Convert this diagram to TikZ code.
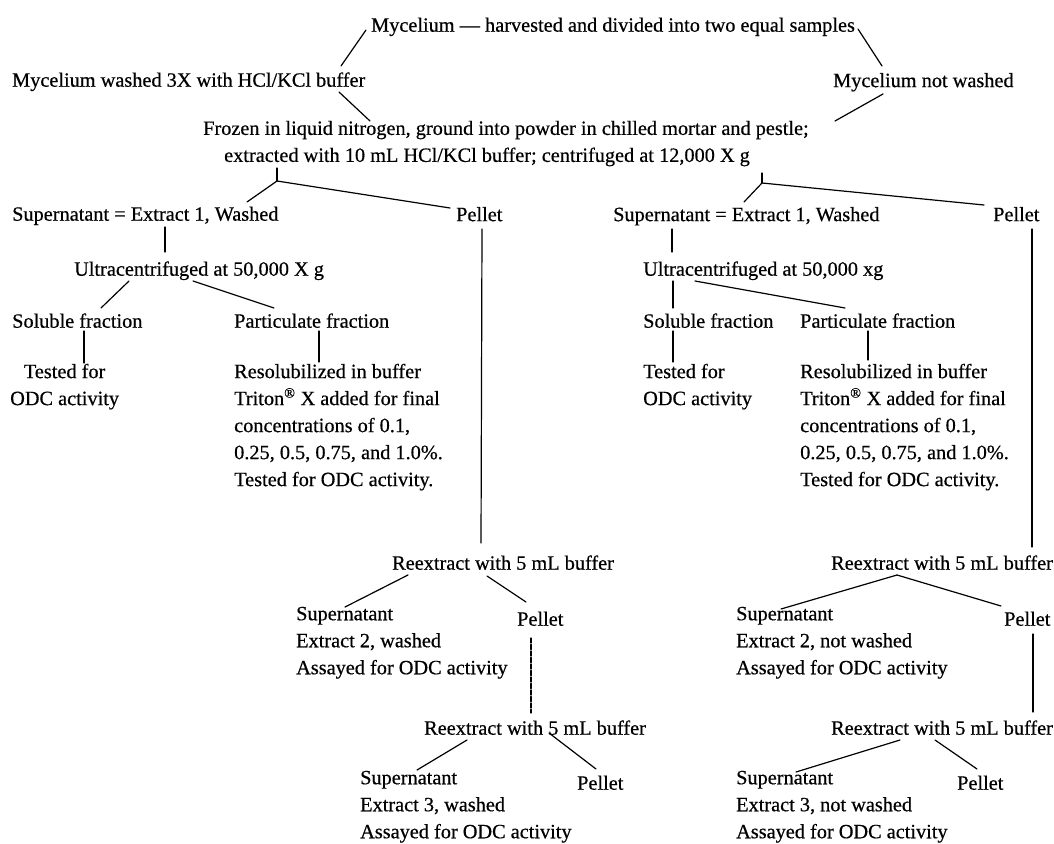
\documentclass[tikz,border=0pt]{standalone}
\usepackage{fontspec}
\setmainfont{Liberation Serif}[FakeBold=0.5]
\usetikzlibrary{positioning}
\tikzset{
  txt/.style     = {anchor=north west, inner sep=0pt, align=left,
                    font=\fontsize{20.3}{27}\selectfont,
                    execute at begin node=\strut},
  link/.style    = {line width=1.2pt, line cap=round},
  gaplink/.style = {link, dash pattern=on 5pt off 1.5pt},
}
\begin{document}
\begin{tikzpicture}[x=1pt, y=-1pt]
  \useasboundingbox (0,0) rectangle (1054,843);
  % ---- harvest and split ----
  \node[txt] (harv) at (371,12.6)
    {Mycelium --- harvested and divided into two equal samples};
  \node[txt] (wash) at (12,67.6) {Mycelium washed 3X with HCl/KCl buffer};
  \node[txt] (nowash) at (833,68) {Mycelium not washed};
  \node[txt] (froz) at (203,120.6)
    {Frozen in liquid nitrogen, ground into powder in chilled mortar and pestle;\\
     \hspace*{21pt}extracted with 10 mL HCl/KCl buffer; centrifuged at 12,000 X g};
  \draw[link] ([shift={(-5,17.4)}]harv.north west) -- ([shift={(329,-1.6)}]wash.north west);
  \draw[link] ([shift={(487,16.4)}]harv.north west) -- ([shift={(49,-2)}]nowash.north west);
  \draw[link] ([shift={(327,24.4)}]wash.north west) -- ([shift={(167,0.4)}]froz.north west);
  \draw[link] ([shift={(50,26)}]nowash.north west) -- ([shift={(632,0.4)}]froz.north west);
  \coordinate (jL) at ([shift={(74,60.4)}]froz.north west);
  \coordinate (jR) at ([shift={(559,62.4)}]froz.north west);
  % ---- first extraction, left (washed) ----
  \node[txt] (supL) at (12,201.6) {Supernatant = Extract 1, Washed};
  \node[txt] (pelL) at (456,202) {Pellet};
  \node[txt] (ultL) at (74,256.6) {Ultracentrifuged at 50,000 X g};
  \node[txt] (solL) at (12,308.6) {Soluble fraction};
  \node[txt] (parL) at (234,308.6) {Particulate fraction};
  \node[txt, align=center] (tstL) at (10,363.6) {Tested for\\ ODC activity};
  \node[txt] (resL) at (234,363.6)
    {Resolubilized in buffer\\ Triton\textsuperscript{®} X added for final\\
     concentrations of 0.1,\\ 0.25, 0.5, 0.75, and 1.0\%.\\ Tested for ODC activity.};
  \draw[link] ([shift={(74,47.4)}]froz.north west) -- (jL);
  \draw[link] (jL) -- ([shift={(235,0.4)}]supL.north west);
  \draw[link] (jL) -- ([shift={(-6,6)}]pelL.north west);
  \draw[link] ([shift={(153,25.4)}]supL.north west) -- ([shift={(91,-4.6)}]ultL.north west);
  \draw[link] ([shift={(55,24.4)}]ultL.north west) -- ([shift={(89,-0.6)}]solL.north west);
  \draw[link] ([shift={(119,24.4)}]ultL.north west) -- ([shift={(40,-0.6)}]parL.north west);
  \draw[link] ([shift={(72,22.4)}]solL.north west) -- ([shift={(74,-0.6)}]tstL.north west);
  \draw[link] ([shift={(85,22.4)}]parL.north west) -- ([shift={(85,-1.6)}]resL.north west);
  % ---- first extraction, right (not washed) ----
  \node[txt] (supR) at (613,202) {Supernatant = Extract 1, Washed};
  \node[txt] (pelR) at (993,202) {Pellet};
  \node[txt] (ultR) at (643,256.6) {Ultracentrifuged at 50,000 xg};
  \node[txt] (solR) at (643,308.6) {Soluble fraction};
  \node[txt] (parR) at (800,308.6) {Particulate fraction};
  \node[txt] (tstR) at (643,363.6) {Tested for\\ ODC activity};
  \node[txt] (resR) at (800,363.6)
    {Resolubilized in buffer\\ Triton\textsuperscript{®} X added for final\\
     concentrations of 0.1,\\ 0.25, 0.5, 0.75, and 1.0\%.\\ Tested for ODC activity.};
  \draw[link] ([shift={(559,52.4)}]froz.north west) -- (jR);
  \draw[link] (jR) -- ([shift={(131,0)}]supR.north west);
  \draw[link] (jR) -- ([shift={(-9,3)}]pelR.north west);
  \draw[link] ([shift={(59,27)}]supR.north west) -- ([shift={(29,-4.6)}]ultR.north west);
  \draw[link] ([shift={(30,24.4)}]ultR.north west) -- ([shift={(30,-0.6)}]solR.north west);
  \draw[link] ([shift={(52,24.4)}]ultR.north west) -- ([shift={(45,-0.6)}]parR.north west);
  \draw[link] ([shift={(30,22.4)}]solR.north west) -- ([shift={(30,-1.6)}]tstR.north west);
  \draw[link] ([shift={(68,22.4)}]parR.north west) -- ([shift={(68,-3.6)}]resR.north west);
  % ---- reextractions, left ----
  \node[txt] (rexL2) at (392,550.6) {Reextract with 5 mL buffer};
  \node[txt] (supL2) at (296,606.6)
    {Supernatant\\ Extract 2, washed\\ Assayed for ODC activity};
  \node[txt] (pelL2) at (517,606.6) {Pellet};
  \node[txt] (rexL3) at (424,715.6) {Reextract with 5 mL buffer};
  \node[txt] (supL3) at (360,770.6)
    {Supernatant\\ Extract 3, washed\\ Assayed for ODC activity};
  \node[txt] (pelL3) at (577,770.6) {Pellet};
  \draw[link] ([shift={(26,27)}]pelL.north west) -- ([shift={(89,-7.6)}]rexL2.north west);
  \draw[link] ([shift={(16,24.4)}]rexL2.north west) -- ([shift={(49,0.4)}]supL2.north west);
  \draw[link] ([shift={(95,25.4)}]rexL2.north west) -- ([shift={(9,-4.6)}]pelL2.north west);
  \draw[gaplink] ([shift={(14,31.4)}]pelL2.north west) -- ([shift={(107,-2.6)}]rexL3.north west);
  \draw[link] ([shift={(43,24.4)}]rexL3.north west) -- ([shift={(57,-0.6)}]supL3.north west);
  \draw[link] ([shift={(125,17.4)}]rexL3.north west) -- ([shift={(19,-1.6)}]pelL3.north west);
  % ---- reextractions, right ----
  \node[txt] (rexR2) at (831,550.6) {Reextract with 5 mL buffer};
  \node[txt] (supR2) at (736,606.6)
    {Supernatant\\ Extract 2, not washed\\ Assayed for ODC activity};
  \node[txt] (pelR2) at (1004,606.6) {Pellet};
  \node[txt] (rexR3) at (831,715.6) {Reextract with 5 mL buffer};
  \node[txt] (supR3) at (736,770.6)
    {Supernatant\\ Extract 3, not washed\\ Assayed for ODC activity};
  \node[txt] (pelR3) at (957,770.6) {Pellet};
  \draw[link] ([shift={(39,27)}]pelR.north west) -- ([shift={(201,-3.6)}]rexR2.north west);
  \draw[link] ([shift={(66,24.4)}]rexR2.north west) -- ([shift={(45,2.4)}]supR2.north west);
  \draw[link] ([shift={(66,24.4)}]rexR2.north west) -- ([shift={(-3,-0.6)}]pelR2.north west);
  \draw[link] ([shift={(29,27.4)}]pelR2.north west) -- ([shift={(202,-3.6)}]rexR3.north west);
  \draw[link] ([shift={(69,24.4)}]rexR3.north west) -- ([shift={(60,1.4)}]supR3.north west);
  \draw[link] ([shift={(104,24.4)}]rexR3.north west) -- ([shift={(20,-1.6)}]pelR3.north west);
\end{tikzpicture}
\end{document}
